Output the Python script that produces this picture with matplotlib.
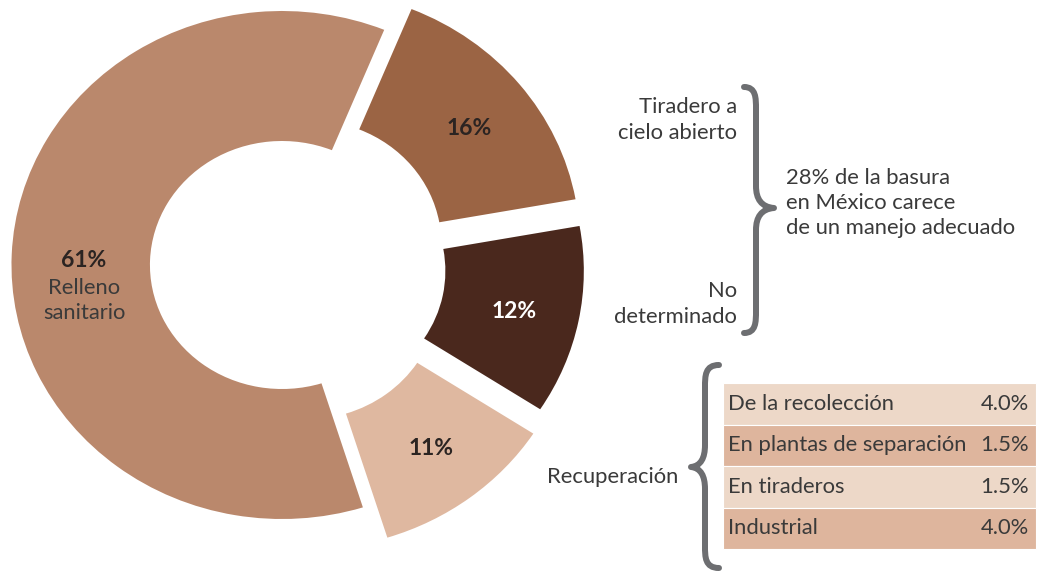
import matplotlib
matplotlib.use("Agg")
import matplotlib.pyplot as plt
from matplotlib.path import Path
from matplotlib.patches import PathPatch
import numpy as np

# ---------------- data ----------------
categories = ["Relleno sanitario", "Tiradero a cielo abierto", "No determinado", "Recuperación"]
shares = [61, 16, 12, 11]
colors = ["#BA886C", "#9B6444", "#4A281D", "#DFB8A0"]
label_colors = ["#2b2422", "#2b2422", "#ffffff", "#2b2422"]
explode_px = [0, 33, 30, 38]
recovery_labels = ["De la recolección", "En plantas de separación", "En tiraderos", "Industrial"]
recovery_values = [4.0, 1.5, 1.5, 4.0]
row_colors = ["#EDD8C8", "#DEB59D", "#EDD8C8", "#DEB59D"]
note_lines = ["28% de la basura", "en México carece", "de un manejo adecuado"]

FONT = ["Lato", "DejaVu Sans"]
TXT = "#3a3a3a"
GREY = "#6D6E71"
FS = 15.8

W, H = 1039, 572
SX = 1.065  # horizontal stretch of the donut

fig = plt.figure(figsize=(W / 100, H / 100), dpi=100)
ax_pie = fig.add_axes([0, 0, 1, 1])
ax = fig.add_axes([0, 0, 1, 1])
ax.patch.set_alpha(0)


def pt(px):
    return px * 72 / 100


def Y(ypx):
    return H - ypx


# ---------------- donut ----------------
R, WIDTH = 254, 130
start = 67.8 + 360 * shares[0] / sum(shares)
wedges, _ = ax_pie.pie(shares, startangle=start, counterclock=False, radius=R,
                       center=(282 / SX, Y(265)), colors=colors, explode=explode_px,
                       wedgeprops=dict(width=WIDTH, linewidth=0))

for i, w in enumerate(wedges):
    tm = np.deg2rad((w.theta1 + w.theta2) / 2)
    rm = w.r - w.width / 2
    cx, cy = w.center
    x = cx + rm * np.cos(tm)
    y = cy + rm * np.sin(tm)
    if i == 0:
        x += 3
        ax_pie.text(x, y - 3, f"{shares[i]}%", ha="center", va="center", fontsize=16.5,
                    fontweight="bold", color=label_colors[i], family=FONT)
        name = categories[0].split(" ")
        ax_pie.text(x, y - 31, name[0], ha="center", va="center", fontsize=FS,
                    color=TXT, family=FONT)
        ax_pie.text(x, y - 56, name[1], ha="center", va="center", fontsize=FS,
                    color=TXT, family=FONT)
    else:
        ax_pie.text(x + 3, y - 3, f"{shares[i]}%", ha="center", va="center", fontsize=16.5,
                    fontweight="bold", color=label_colors[i], family=FONT)

ax_pie.set_xlim(0, W / SX)
ax_pie.set_ylim(0, H)
ax_pie.set_aspect("auto")
ax_pie.axis("off")

# ---------------- right-side annotations ----------------
kw = dict(fontsize=FS, color=TXT, family=FONT, va="center")
ax.text(737, Y(107), "Tiradero a", ha="right", **kw)
ax.text(737, Y(133), "cielo abierto", ha="right", **kw)
ax.text(737, Y(291), "No", ha="right", **kw)
ax.text(737, Y(317), "determinado", ha="right", **kw)
for k, line in enumerate(note_lines):
    ax.text(786, Y(178 + 25 * k), line, ha="left", **kw)
ax.text(678, Y(477), "Recuperación", ha="right", **kw)


def brace(x_end, x_mid, x_tip, y_top, y_tip, y_bot, c=11):
    verts = [
        (x_end, Y(y_top)),
        (x_mid, Y(y_top)), (x_mid, Y(y_top + c)), (x_mid, Y(y_top + 2 * c)),
        (x_mid, Y(y_tip - 2 * c)),
        (x_mid, Y(y_tip - c + 2)), (x_mid + (x_tip - x_mid) * 0.3, Y(y_tip - 1)), (x_tip, Y(y_tip)),
        (x_mid + (x_tip - x_mid) * 0.3, Y(y_tip + 1)), (x_mid, Y(y_tip + c - 2)), (x_mid, Y(y_tip + 2 * c)),
        (x_mid, Y(y_bot - 2 * c)),
        (x_mid, Y(y_bot - c)), (x_mid, Y(y_bot)), (x_end, Y(y_bot)),
    ]
    codes = [Path.MOVETO,
             Path.CURVE4, Path.CURVE4, Path.CURVE4,
             Path.LINETO,
             Path.CURVE4, Path.CURVE4, Path.CURVE4,
             Path.CURVE4, Path.CURVE4, Path.CURVE4,
             Path.LINETO,
             Path.CURVE4, Path.CURVE4, Path.CURVE4]
    ax.add_patch(PathPatch(Path(verts, codes), fill=False, edgecolor=GREY,
                           linewidth=pt(6), capstyle="round", joinstyle="round"))


brace(744, 756, 774, 87, 208, 333)
brace(719, 705, 691, 365, 467, 568)

# ---------------- recovery table ----------------
row_top, row_h = 383, 41.5
tbl_left, tbl_right = 723, 1036
for i, (lab, val) in enumerate(zip(recovery_labels, recovery_values)):
    yc = Y(row_top + row_h * (i + 0.5))
    ax.barh(yc, tbl_right - tbl_left, left=tbl_left, height=row_h, color=row_colors[i],
            edgecolor="white", linewidth=0.8)
    ax.text(tbl_left + 5, yc, lab, ha="left", **kw)
    ax.text(tbl_right - 7, yc, f"{val:.1f}%", ha="right", **kw)

ax.set_xlim(0, W)
ax.set_ylim(0, H)
ax.axis("off")
fig.savefig("out.png", dpi=100, facecolor="white")
